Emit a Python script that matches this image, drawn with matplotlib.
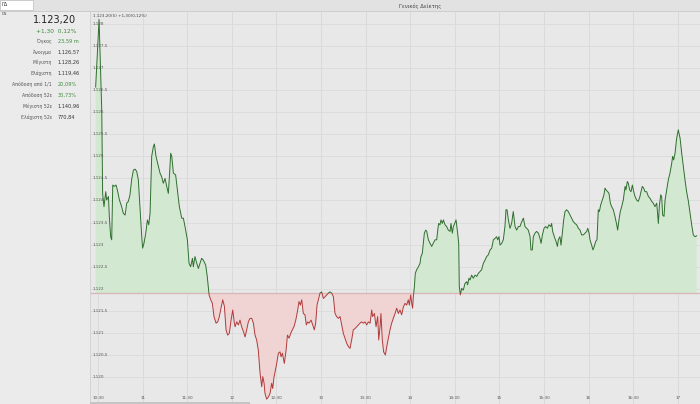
import matplotlib
matplotlib.use("Agg")
import matplotlib.pyplot as plt
from matplotlib.patches import Rectangle
import numpy as np

# ---------------- data ----------------
title = "Γενικός Δείκτης"
symbol = "ΓΔ"
last_price = "1.123,20"
change_text = "+1,30  0,12%"
chart_caption = "1.123,20(5) +1,30(0,12%)"
prev_close = 1121.90

stat_labels = ["Όγκος", "Άνοιγμα", "Μέγιστη", "Ελάχιστη", "Απόδοση από 1/1",
               "Απόδοση 52ε", "Μέγιστη 52ε", "Ελάχιστη 52ε"]
stat_values = ["23,59 m", "1.126,57", "1.128,26", "1.119,46", "20,09%",
               "30,73%", "1.140,96", "770,84"]
stat_green = [True, False, False, False, True, True, False, False]

x_tick_labels = ["10:30", "11", "11:30", "12", "12:30", "13", "13:30", "14",
                 "14:30", "15", "15:30", "16", "16:30", "17"]
y_ticks = [1120.0, 1120.5, 1121.0, 1121.5, 1122.0, 1122.5, 1123.0, 1123.5,
           1124.0, 1124.5, 1125.0, 1125.5, 1126.0, 1126.5, 1127.0, 1127.5, 1128.0]
y_tick_labels = ["1.120", "1.120,5", "1.121", "1.121,5", "1.122", "1.122,5",
                 "1.123", "1.123,5", "1.124", "1.124,5", "1.125", "1.125,5",
                 "1.126", "1.126,5", "1.127", "1.127,5", "1.128"]

# time in minutes after midnight
minutes = [
    628.4, 630.7, 632.5, 633.1, 634.0, 635.2, 635.8, 637.0, 637.6, 638.5, 639.2, 639.9,
    640.8, 642.1, 643.0, 644.4, 645.9, 647.0, 648.2, 649.3, 650.4, 651.5, 652.6, 653.8,
    654.9, 656.0, 657.1, 658.3, 659.4, 660.0, 660.9, 662.1, 663.2, 664.1, 665.0, 666.1,
    667.2, 667.9, 669.0, 670.6, 671.7, 672.8, 673.9, 675.1, 676.2, 677.3, 678.0, 678.9,
    679.6, 680.7, 682.2, 683.4, 684.7, 686.3, 687.4, 688.5, 690.1, 691.2, 692.3, 693.5,
    694.1, 695.2, 696.4, 697.5, 698.6, 699.7, 700.8, 702.4, 703.5, 704.7, 705.8, 706.9,
    708.0, 709.4, 710.5, 711.6, 712.7, 713.9, 715.0, 716.1, 717.2, 718.3, 719.5, 720.6,
    721.7,
    722.2, 723.3, 724.4, 725.5, 726.6, 727.8, 728.9, 730.0, 731.1, 732.2, 733.4, 734.5,
    735.6, 736.7, 737.8, 739.0, 740.1, 740.8, 741.7, 742.3, 743.4, 744.6, 745.7, 746.8,
    747.5, 748.4, 749.1, 750.2, 751.3, 752.4, 753.1, 754.0, 755.3, 756.5, 757.4, 758.5,
    759.6, 760.7, 761.8, 763.0, 764.1, 765.2, 766.1, 767.0, 768.1, 769.2, 770.1, 771.0,
    771.9, 773.3, 774.4, 775.5, 776.4, 777.3, 778.2, 779.3, 780.4, 781.6, 782.7, 783.8,
    784.9, 786.0, 787.2, 788.3, 789.4, 790.5, 791.7, 792.8, 793.9, 795.0, 796.1, 797.3,
    798.4, 799.5, 800.6, 801.7, 802.9, 804.0, 805.1, 806.2, 807.3, 808.5, 809.6, 810.7,
    811.8, 813.0, 814.1, 814.7, 815.9, 817.0, 818.1, 818.8, 819.7, 820.3, 821.2, 822.1,
    823.3, 824.2, 825.3, 826.4, 827.5, 828.6, 829.8, 830.9, 832.0, 833.1, 834.2, 835.4,
    836.5, 837.6, 838.7, 839.4, 840.3, 841.0, 841.6, 842.1, 842.8, 843.4, 844.3, 845.5,
    846.6, 847.2, 848.1, 848.8, 849.5, 850.4, 851.1, 852.2, 853.3, 854.4, 855.5, 856.7,
    857.8, 858.5, 859.1, 860.0, 860.7, 861.6, 862.3, 863.4, 864.5, 865.6, 866.8, 867.4,
    868.3, 869.0, 869.9, 870.8, 871.9, 872.6, 873.0, 873.7, 874.6, 875.7, 876.8, 878.0,
    878.6, 879.5, 880.2, 881.3, 882.4, 883.6, 884.7, 885.8, 886.9, 888.0, 889.2, 890.3,
    891.4, 892.5, 893.7, 894.8, 895.9, 897.0, 898.1, 898.8, 899.7, 900.4, 901.5, 902.6,
    903.7, 904.4, 905.1, 906.0, 907.1, 908.2, 909.3, 910.5, 911.6, 912.7, 913.8, 915.0,
    916.1, 917.2, 918.3, 919.4, 920.6, 921.2, 922.1, 922.8, 923.9, 925.0, 926.2, 927.3,
    928.0, 928.9, 930.0, 931.1, 932.2, 933.3, 934.5, 935.1, 935.8, 936.9, 938.1, 939.0,
    939.6, 940.7, 941.4, 942.3, 943.2, 944.1, 945.2, 946.3, 947.5, 948.6, 949.7, 950.8,
    951.9, 953.1, 954.2, 955.3, 956.4, 957.6, 958.7, 959.4, 960.3, 960.9, 962.0, 962.9,
    963.8, 964.7, 965.6, 966.5, 967.2, 968.1, 969.2, 970.3, 971.0, 971.7, 972.8, 973.7,
    974.6, 975.5, 976.6, 977.7, 978.9, 979.5, 980.4, 981.3, 982.2, 983.3, 984.5, 985.1,
    986.0, 986.7, 987.6, 988.5, 989.4, 990.3, 991.2, 992.3, 993.4, 994.5, 995.2, 996.1,
    997.0, 997.9, 999.0, 1000.2, 1001.3, 1002.4, 1003.5, 1004.6, 1005.8, 1006.9, 1007.6, 1008.5,
    1009.1, 1009.8, 1010.7, 1011.4, 1012.5, 1013.6, 1014.7, 1015.9, 1016.5, 1017.2, 1018.1, 1019.2,
    1020.3, 1021.5, 1022.6, 1023.7, 1024.8, 1025.9, 1027.1, 1028.2, 1029.3, 1030.4, 1031.5, 1032.7,
]
prices = [
    1126.57, 1128.10, 1126.05, 1124.16, 1123.86, 1124.20, 1124.01, 1124.09, 1123.64, 1123.18, 1123.11, 1124.35,
    1124.32, 1124.35, 1124.24, 1124.01, 1123.86, 1123.71, 1123.67, 1123.94, 1123.98, 1124.13, 1124.47, 1124.69,
    1124.71, 1124.66, 1124.47, 1123.79, 1123.18, 1122.92, 1123.03, 1123.26, 1123.56, 1123.45, 1123.71, 1125.00,
    1125.22, 1125.28, 1125.00, 1124.77, 1124.62, 1124.54, 1124.39, 1124.50, 1124.32, 1124.16, 1124.54, 1125.07,
    1125.00, 1124.62, 1124.58, 1124.24, 1123.86, 1123.60, 1123.60, 1123.41, 1123.11, 1122.58, 1122.50, 1122.69,
    1122.50, 1122.73, 1122.58, 1122.46, 1122.58, 1122.69, 1122.65, 1122.54, 1122.27, 1121.86, 1121.75, 1121.67,
    1121.37, 1121.22, 1121.25, 1121.37, 1121.56, 1121.75, 1121.60, 1121.07, 1120.95, 1120.99, 1121.29, 1121.52,
    1121.22,
    1121.14, 1121.25, 1121.18, 1121.29, 1121.14, 1121.03, 1120.91, 1121.07, 1121.25, 1121.33, 1121.33, 1121.22,
    1120.95, 1120.84, 1120.61, 1120.08, 1119.78, 1120.01, 1119.86, 1119.63, 1119.50, 1119.55, 1119.63, 1119.86,
    1119.74, 1120.01, 1120.12, 1120.31, 1120.54, 1120.57, 1120.46, 1120.54, 1120.31, 1120.61, 1120.95, 1120.88,
    1120.99, 1121.07, 1121.14, 1121.29, 1121.48, 1121.71, 1121.63, 1121.75, 1121.44, 1121.41, 1121.18, 1121.25,
    1121.22, 1121.29, 1121.18, 1121.07, 1121.22, 1121.63, 1121.75, 1121.90, 1121.93, 1121.78, 1121.82, 1121.86,
    1121.90, 1121.93, 1121.90, 1121.82, 1121.44, 1121.37, 1121.33, 1121.37, 1121.18, 1120.99, 1120.88, 1120.76,
    1120.69, 1120.65, 1120.84, 1121.07, 1121.10, 1121.14, 1121.18, 1121.22, 1121.25, 1121.22, 1121.25, 1121.18,
    1121.25, 1121.22, 1121.52, 1121.37, 1121.44, 1121.14, 1121.37, 1120.84, 1121.14, 1121.44, 1120.84, 1120.57,
    1120.50, 1120.69, 1120.88, 1121.07, 1121.22, 1121.33, 1121.44, 1121.56, 1121.44, 1121.52, 1121.41, 1121.59,
    1121.67, 1121.63, 1121.75, 1121.63, 1121.86, 1121.67, 1121.56, 1121.82, 1122.05, 1122.35, 1122.43, 1122.50,
    1122.58, 1122.73, 1122.80, 1123.03, 1123.26, 1123.33, 1123.30, 1123.11, 1123.03, 1122.96, 1123.03, 1123.11,
    1123.11, 1123.33, 1123.48, 1123.45, 1123.56, 1123.48, 1123.56, 1123.45, 1123.41, 1123.33, 1123.30, 1123.48,
    1123.26, 1123.41, 1123.48, 1123.56, 1123.26, 1123.03, 1122.05, 1121.86, 1122.01, 1121.97, 1122.12, 1122.16,
    1122.09, 1122.24, 1122.20, 1122.31, 1122.24, 1122.31, 1122.28, 1122.35, 1122.39, 1122.43, 1122.58, 1122.65,
    1122.73, 1122.77, 1122.88, 1122.92, 1123.11, 1123.14, 1123.18, 1123.11, 1123.18, 1122.99, 1123.03, 1123.11,
    1123.41, 1123.79, 1123.79, 1123.56, 1123.37, 1123.48, 1123.75, 1123.41, 1123.33, 1123.41, 1123.41, 1123.52,
    1123.60, 1123.41, 1123.37, 1123.33, 1123.18, 1122.88, 1122.88, 1123.18, 1123.26, 1123.30, 1123.26, 1123.14,
    1123.03, 1123.22, 1123.37, 1123.41, 1123.37, 1123.45, 1123.41, 1123.48, 1123.30, 1123.18, 1123.07, 1122.96,
    1123.11, 1123.18, 1122.99, 1123.26, 1123.56, 1123.75, 1123.79, 1123.75, 1123.67, 1123.60, 1123.52, 1123.48,
    1123.45, 1123.37, 1123.33, 1123.22, 1123.22, 1123.26, 1123.30, 1123.37, 1123.26, 1123.11, 1122.99, 1122.88,
    1122.96, 1123.07, 1123.11, 1123.79, 1123.75, 1123.90, 1124.01, 1124.13, 1124.28, 1124.24, 1124.20, 1124.16,
    1123.94, 1123.86, 1123.79, 1123.64, 1123.45, 1123.33, 1123.56, 1123.75, 1123.86, 1124.01, 1124.32, 1124.24,
    1124.43, 1124.39, 1124.24, 1124.20, 1124.35, 1124.20, 1124.09, 1124.01, 1123.98, 1124.09, 1124.20, 1124.32,
    1124.28, 1124.20, 1124.20, 1124.09, 1124.05, 1123.98, 1123.94, 1123.86, 1123.94, 1123.48, 1123.90, 1124.13,
    1124.09, 1123.67, 1123.64, 1124.01, 1124.24, 1124.47, 1124.62, 1124.85, 1125.00, 1124.92, 1125.07, 1125.41,
    1125.60, 1125.41, 1125.07, 1124.77, 1124.47, 1124.20, 1123.98, 1123.71, 1123.45, 1123.22, 1123.18, 1123.20,
]

# ---------------- figure ----------------
W, H = 700, 404
fig = plt.figure(figsize=(W / 100, H / 100), dpi=100)
fig.patch.set_facecolor("#ebebeb")
plt.rcParams["font.family"] = ["DejaVu Sans"]


def fx(px):
    return px / W


def fy(py):
    return 1 - py / H


# header bar
fig.patches.append(Rectangle((0, fy(11)), 1, 11 / H, transform=fig.transFigure,
                             facecolor="#e2e2e2", edgecolor="none", zorder=0))
fig.lines.append(plt.Line2D([0, 1], [fy(11), fy(11)], transform=fig.transFigure,
                            color="#c8c8c8", lw=0.6))
fig.patches.append(Rectangle((0, fy(10)), 33 / W, 10 / H, transform=fig.transFigure,
                             facecolor="white", edgecolor="#bdbdbd", lw=0.5, zorder=1))
fig.text(fx(2), fy(5), symbol, fontsize=3.6, va="center", ha="left", color="#333333", zorder=2)
fig.text(fx(2), fy(14), symbol, fontsize=3.2, va="center", ha="left", color="#555555")
fig.text(fx(420), fy(6), title, fontsize=3.8, va="center", ha="center", color="#444444")

# left panel
fig.text(fx(76), fy(20), last_price, fontsize=7, ha="right", va="center", color="#222222")
fig.text(fx(76), fy(31), change_text, fontsize=4.2, ha="right", va="center", color="#3d8b3d")
row_y = [41, 52, 62, 73, 84, 95, 106, 117]
for lab, val, g, yy in zip(stat_labels, stat_values, stat_green, row_y):
    fig.text(fx(52), fy(yy), lab, fontsize=3.3, ha="right", va="center", color="#555555")
    fig.text(fx(58), fy(yy), val, fontsize=3.6, ha="left", va="center",
             color="#3d8b3d" if g else "#333333")

# chart axes
left_px, top_px = 90, 12
ax = fig.add_axes([fx(left_px), 0, (W - left_px) / W, (H - top_px) / H])
ax.set_facecolor("#e8e8e8")
ax.set_xlim(624.6, 1034.9)
ax.set_ylim(1119.39, 1128.27)
for s in ax.spines.values():
    s.set_visible(False)
ax.spines["left"].set_visible(True)
ax.spines["left"].set_color("#cfcfcf")
ax.spines["left"].set_linewidth(0.6)
ax.set_xticks([])
ax.set_yticks([])

x_ticks = []
for lab in x_tick_labels:
    if ":" in lab:
        h, m = lab.split(":")
        x_ticks.append(int(h) * 60 + int(m))
    else:
        x_ticks.append(int(lab) * 60)

for xt in x_ticks:
    ax.axvline(xt, color="#d8d8d8", lw=0.6, zorder=0)
for yt in y_ticks:
    ax.axhline(yt, color="#dadada", lw=0.6, zorder=0)

t = np.array(minutes)
p = np.array(prices)
ax.fill_between(t, p, prev_close, where=p >= prev_close, interpolate=True,
                color="#d3e8d1", lw=0, zorder=1)
ax.fill_between(t, p, prev_close, where=p <= prev_close, interpolate=True,
                color="#f0d3d3", lw=0, zorder=1)

ax.axhline(prev_close, color="#d9b8b8", lw=1.0, zorder=2)

up_line, = ax.plot(t, p, color="#2f6e2f", lw=0.7, zorder=3)
dn_line, = ax.plot(t, p, color="#b23a3a", lw=0.7, zorder=3)
up_clip = Rectangle((600, prev_close), 500, 20, transform=ax.transData)
dn_clip = Rectangle((600, prev_close - 20), 500, 20, transform=ax.transData)
up_line.set_clip_path(up_clip)
dn_line.set_clip_path(dn_clip)

for yt, lab in zip(y_ticks, y_tick_labels):
    ax.text(626.5, yt, lab, fontsize=3.0, ha="left", va="center", color="#555555", zorder=4)
for xt, lab in zip(x_ticks, x_tick_labels):
    ax.text(xt, 1119.52, lab, fontsize=3.0, ha="center", va="center", color="#555555", zorder=4)

ax.text(626.5, 1128.18, chart_caption, fontsize=3.0, ha="left", va="center",
        color="#444444", zorder=4)

# small scrollbar at bottom
fig.patches.append(Rectangle((fx(90), 0), 160 / W, 2.5 / H, transform=fig.transFigure,
                             facecolor="#c4c4c4", edgecolor="none", zorder=5))

fig.savefig("out.png", dpi=100, facecolor=fig.get_facecolor())
